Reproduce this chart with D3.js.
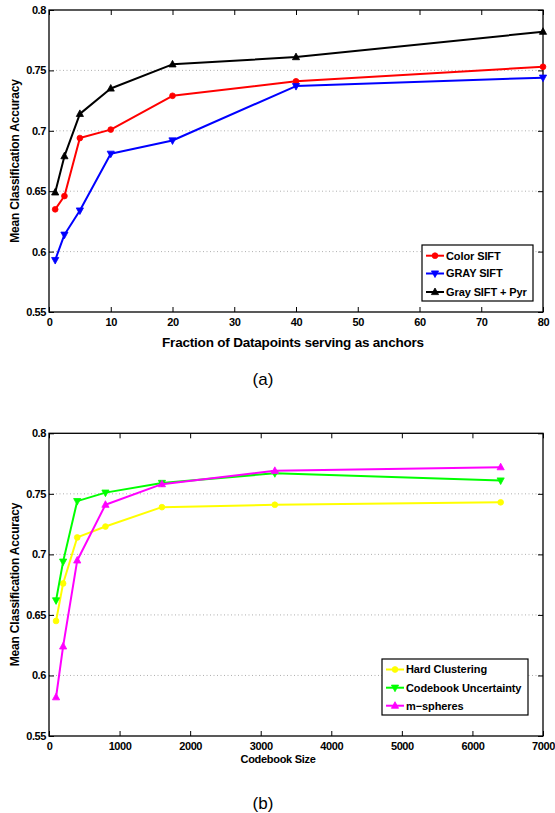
<!DOCTYPE html>
<html><head><meta charset="utf-8">
<script src="https://cdn.jsdelivr.net/npm/d3@7"></script>
<style>
html,body{margin:0;padding:0;background:#fff;}
text{font-family:"Liberation Sans",Arial,sans-serif;}
</style>
</head><body>
<svg id="c" width="555" height="813"></svg>
<script>
// ---- data ----
const fracX = [1, 2.5, 5, 10, 20, 40, 80];
const colorSift = [0.635, 0.646, 0.694, 0.701, 0.729, 0.741, 0.753];
const graySift = [0.593, 0.614, 0.634, 0.681, 0.692, 0.737, 0.744];
const graySiftPyr = [0.649, 0.679, 0.714, 0.735, 0.755, 0.761, 0.782];
const seriesA = ["Color SIFT", "GRAY SIFT", "Gray SIFT + Pyr"];

const codeX = [100, 200, 400, 800, 1600, 3200, 6400];
const hardClustering = [0.645, 0.676, 0.714, 0.723, 0.739, 0.741, 0.743];
const codebookUncertainty = [0.662, 0.694, 0.744, 0.751, 0.759, 0.767, 0.761];
const mSpheres = [0.582, 0.624, 0.695, 0.741, 0.758, 0.769, 0.772];
const seriesB = ["Hard Clustering", "Codebook Uncertainty", "m\u2212spheres"];

const yTicks = [0.55, 0.6, 0.65, 0.7, 0.75, 0.8];
const yTickLabels = ["0.55", "0.6", "0.65", "0.7", "0.75", "0.8"];
const xTicksA = [0, 10, 20, 30, 40, 50, 60, 70, 80];
const xTicksB = [0, 1000, 2000, 3000, 4000, 5000, 6000, 7000];

const svg = d3.select("#c");

function drawChart(cfg) {
  const {left, right, top, bottom, xDomain, xTicks, series, xLabel, xLabelStyle, yLabelY, legend, caption} = cfg;
  const g = svg.append("g");
  const x = d3.scaleLinear().domain(xDomain).range([left, right]);
  const y = d3.scaleLinear().domain([0.55, 0.8]).range([bottom, top]);

  // gridlines (horizontal only)
  g.append("g").selectAll("line").data(yTicks.slice(1, -1)).join("line")
    .attr("x1", left).attr("x2", right)
    .attr("y1", d => y(d)).attr("y2", d => y(d))
    .attr("stroke", "#9a9a9a").attr("stroke-width", 0.8)
    .attr("stroke-dasharray", "1,2.5");

  // axes via d3
  const tickLen = 5;
  const bx = g.append("g").attr("transform", `translate(0,${bottom})`)
    .call(d3.axisBottom(x).tickValues(xTicks).tickSize(-tickLen).tickPadding(6).tickFormat(d3.format("d")));
  const tx = g.append("g").attr("transform", `translate(0,${top})`)
    .call(d3.axisTop(x).tickValues(xTicks).tickSize(-tickLen).tickFormat(""));
  const ly = g.append("g").attr("transform", `translate(${left},0)`)
    .call(d3.axisLeft(y).tickValues(yTicks).tickSize(-tickLen).tickPadding(3)
      .tickFormat((d, i) => yTickLabels[i]));
  const ry = g.append("g").attr("transform", `translate(${right},0)`)
    .call(d3.axisRight(y).tickValues(yTicks).tickSize(-tickLen).tickFormat(""));
  [bx, tx, ly, ry].forEach(a => {
    a.select(".domain").remove();
    a.selectAll(".tick line").attr("stroke", "#000").attr("stroke-width", 1);
    a.selectAll("text").attr("fill", "#000").attr("font-size", 11).attr("font-weight", "bold")
      .attr("font-family", "'Liberation Sans', Arial, sans-serif").attr("letter-spacing", -0.4);
  });
  ly.selectAll("text").attr("dy", "0.32em");

  // frame
  g.append("rect").attr("x", left).attr("y", top).attr("width", right - left).attr("height", bottom - top)
    .attr("fill", "none").attr("stroke", "#000").attr("stroke-width", 1.3);

  // series
  const line = d3.line().x(d => x(d[0])).y(d => y(d[1]));
  series.forEach(s => {
    const pts = s.xs.map((v, i) => [v, s.ys[i]]);
    g.append("path").datum(pts).attr("d", line).attr("fill", "none")
      .attr("stroke", s.color).attr("stroke-width", 2).attr("stroke-linejoin", "round");
    g.append("g").selectAll("path").data(pts).join("path")
      .attr("transform", d => `translate(${x(d[0])},${y(d[1])})`)
      .attr("d", markerPath(s.marker)).attr("fill", s.color).attr("stroke", s.color).attr("stroke-width", 0.8);
  });

  // y label
  g.append("text").attr("transform", `translate(19,${yLabelY}) rotate(-90)`)
    .attr("text-anchor", "middle").attr("font-size", 12).attr("font-weight", "bold")
    .attr("letter-spacing", -0.2).text("Mean Classification Accuracy");

  // x label
  g.append("text").attr("x", xLabelStyle.x).attr("y", xLabelStyle.y).attr("text-anchor", "middle")
    .attr("font-size", xLabelStyle.size).attr("font-weight", "bold")
    .attr("font-family", xLabelStyle.family).attr("letter-spacing", xLabelStyle.ls || 0)
    .text(xLabel);

  // legend
  const lg = g.append("g");
  lg.append("rect").attr("x", legend.x).attr("y", legend.y).attr("width", legend.w).attr("height", legend.h)
    .attr("fill", "#fff").attr("stroke", "#000").attr("stroke-width", 1.2);
  series.forEach((s, i) => {
    const yy = legend.rows[i];
    lg.append("line").attr("x1", legend.x + 4).attr("x2", legend.x + 22).attr("y1", yy).attr("y2", yy)
      .attr("stroke", s.color).attr("stroke-width", 2);
    lg.append("path").attr("transform", `translate(${legend.x + 13},${yy})`).attr("d", markerPath(s.marker))
      .attr("fill", s.color).attr("stroke", s.color).attr("stroke-width", 0.8);
    lg.append("text").attr("x", legend.x + 24).attr("y", yy).attr("dy", "0.36em")
      .attr("font-size", 11).attr("font-weight", "bold").attr("letter-spacing", -0.1).text(s.name);
  });

  // caption
  g.append("text").attr("x", caption.x).attr("y", caption.y).attr("text-anchor", "middle")
    .attr("font-family", "'Liberation Serif','Times New Roman',serif").attr("font-size", 17)
    .text(caption.text);
}

function markerPath(type) {
  if (type === "circle") return d3.symbol(d3.symbolCircle, 26)();
  if (type === "up") return "M0,-4L3.6,2.6L-3.6,2.6Z";
  if (type === "down") return "M0,4L3.6,-2.6L-3.6,-2.6Z";
  return "";
}

drawChart({
  left: 49, right: 543, top: 10, bottom: 312,
  xDomain: [0, 80], xTicks: xTicksA,
  series: [
    {name: seriesA[0], xs: fracX, ys: colorSift, color: "#ff0000", marker: "circle"},
    {name: seriesA[1], xs: fracX, ys: graySift, color: "#0000ff", marker: "down"},
    {name: seriesA[2], xs: fracX, ys: graySiftPyr, color: "#000000", marker: "up"}
  ],
  xLabel: "Fraction of Datapoints serving as anchors",
  xLabelStyle: {x: 293, y: 346.5, size: 13.5, family: "'DejaVu Sans', sans-serif", ls: -0.2},
  yLabelY: 161,
  legend: {x: 422, y: 245, w: 111, h: 56, rows: [255.7, 273.5, 292]},
  caption: {x: 263, y: 385, text: "(a)"}
});

drawChart({
  left: 49, right: 543, top: 433.3, bottom: 736,
  xDomain: [0, 7000], xTicks: xTicksB,
  series: [
    {name: seriesB[0], xs: codeX, ys: hardClustering, color: "#ffff00", marker: "circle"},
    {name: seriesB[1], xs: codeX, ys: codebookUncertainty, color: "#00ff00", marker: "down"},
    {name: seriesB[2], xs: codeX, ys: mSpheres, color: "#ff00ff", marker: "up"}
  ],
  xLabel: "Codebook Size",
  xLabelStyle: {x: 278, y: 762.5, size: 11, family: "'Liberation Sans', Arial, sans-serif", ls: -0.3},
  yLabelY: 584.5,
  legend: {x: 382, y: 659, w: 146, h: 56, rows: [669.5, 687.7, 705.7]},
  caption: {x: 263, y: 809, text: "(b)"}
});
</script>
</body></html>
